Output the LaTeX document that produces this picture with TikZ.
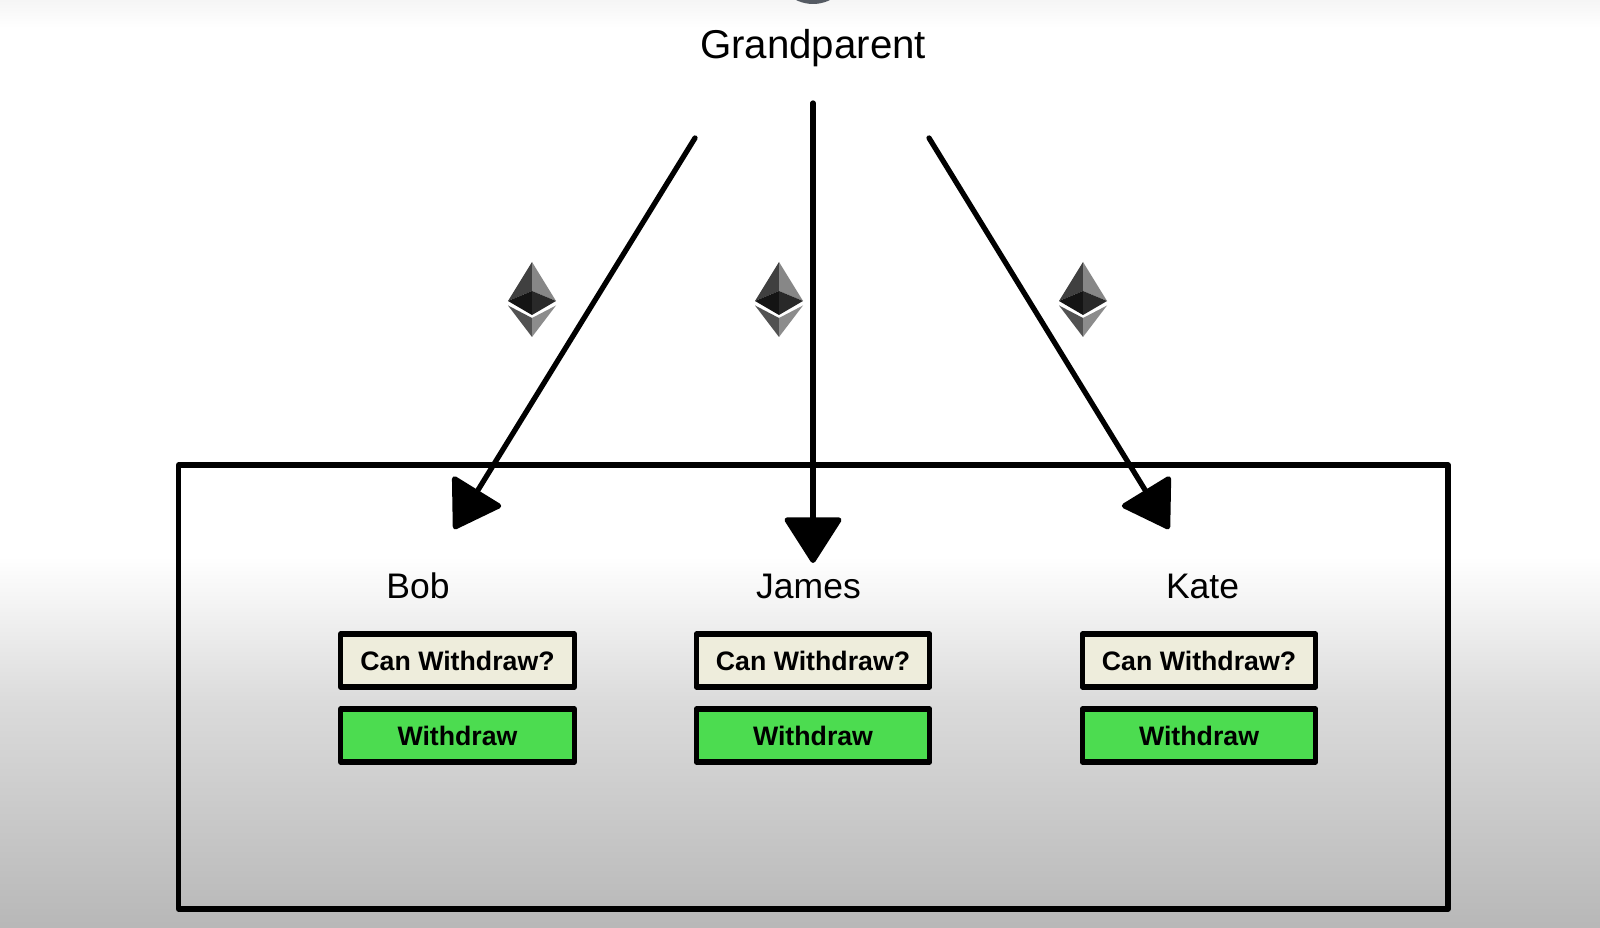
\documentclass[tikz,border=0pt]{standalone}
\usepackage{fontspec}
\setmainfont{Liberation Sans}
\usetikzlibrary{arrows.meta}
\pgfdeclareverticalshading{backfade}{100bp}{
  color(0bp)=(black!28); color(25bp)=(black!28); color(37.24bp)=(black!14); color(44.96bp)=(white);
  color(73.5bp)=(white); color(75bp)=(black!4); color(100bp)=(black!4)}
\definecolor{askfill}{HTML}{EEEDDC}
\definecolor{payfill}{HTML}{4CDC50}
\definecolor{topdot}{HTML}{555B63}
\tikzset{
  person/.style={font=\fontsize{10.1}{12}\selectfont, inner sep=0pt},
  button/.style={draw, line width=1.5pt, line join=round, minimum width=2.335cm, minimum height=.53cm, inner sep=0pt,
    font=\fontsize{7.6}{9}\selectfont\bfseries},
  ask/.style={button, fill=askfill},
  pay/.style={button, fill=payfill},
  send/.style={draw, line width=1.5pt, line cap=round, -{Triangle[length=.48cm, width=.6cm, round]}},
  ethlogo/.pic={
    \fill[black!75] (0,.39) -- (-.24,0) -- (0,.10) -- cycle;
    \fill[black!47] (0,.39) -- (.24,0) -- (0,.10) -- cycle;
    \fill[black!92] (-.24,0) -- (0,.10) -- (0,-.14) -- cycle;
    \fill[black!84] (.24,0) -- (0,.10) -- (0,-.14) -- cycle;
    \fill[black!68] (-.24,-.045) -- (0,-.17) -- (0,-.36) -- cycle;
    \fill[black!45] (.24,-.045) -- (0,-.17) -- (0,-.36) -- cycle;
  }
}
\begin{document}
\begin{tikzpicture}
\useasboundingbox (0,0) rectangle (16,9.27);
\shade[shading=backfade] (0,0) rectangle (16,9.27);
\fill[topdot] (8.13,9.61) circle (.38);

\node[font=\fontsize{11.45}{13}\selectfont, inner sep=0pt] (grandparent) at (8.13,8.79) {Grandparent};

\draw[line width=1.5pt, line join=round] (1.785,.18) rectangle (14.48,4.62);

\node[person] (bob) at (4.18,3.41) {Bob};
\node[person] (james) at (8.085,3.41) {James};
\node[person] (kate) at (12.025,3.41) {Kate};

\node[ask] (askbob) at (4.575,2.665) {Can Withdraw?};
\node[ask] (askjames) at (8.13,2.665) {Can Withdraw?};
\node[ask] (askkate) at (11.99,2.665) {Can Withdraw?};

\node[pay] (paybob) at (4.575,1.915) {Withdraw};
\node[pay] (payjames) at (8.13,1.915) {Withdraw};
\node[pay] (paykate) at (11.99,1.915) {Withdraw};

\pic at (5.32,6.26) {ethlogo};
\pic at (7.79,6.26) {ethlogo};
\pic at (10.83,6.26) {ethlogo};

\coordinate (startbob) at (6.95,7.89);
\coordinate (startjames) at (8.13,8.24);
\coordinate (startkate) at (9.29,7.89);
\coordinate (endbob) at (4.54,3.98);
\coordinate (endjames) at (8.13,3.64);
\coordinate (endkate) at (11.69,3.98);

\path[send] (startbob) -- (endbob);
\path[send] (startjames) -- (endjames);
\path[send] (startkate) -- (endkate);
\end{tikzpicture}
\end{document}
